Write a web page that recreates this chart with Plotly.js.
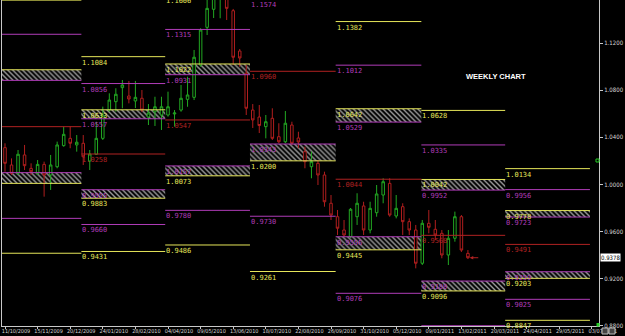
<!DOCTYPE html>
<html><head><meta charset="utf-8">
<script src="https://cdn.plot.ly/plotly-3.0.1.min.js"></script>
<style>html,body{margin:0;padding:0;background:#000;}#chart{width:625px;height:336px;}</style>
</head><body><div id="chart"></div>
<script>
// ---- weekly candles (first bar week) ----
const firstWeek = '2009-10-11';
const openP = [1.0312,1.0165,1.0094,1.0250,1.0136,1.0094,1.0170,1.0080,1.0150,1.0329,
  1.0391,1.0335,1.0349,1.0199,1.0256,1.0391,1.0631,1.0702,1.0821,1.0750,
  1.0708,1.0731,1.0572,1.0617,1.0589,1.0589,1.0598,1.0631,1.0722,1.0739,
  1.1013,1.1333,1.1486,1.1590,1.1650,1.1474,1.1132,1.0943,1.0631,1.0572,
  1.0490,1.0561,1.0405,1.0362,1.0504,1.0394,1.0278,1.0150,1.0179,1.0080,
  0.9840,0.9726,0.9613,0.9556,0.9726,0.9817,0.9613,0.9760,0.9910,1.0009,
  0.9732,0.9811,0.9684,0.9613,0.9331,0.9670,0.9619,0.9585,0.9401,0.9543,
  0.9726,0.9415];
const highP = [1.0349,1.0221,1.0292,1.0335,1.0179,1.0207,1.0193,1.0250,1.0363,1.0490,
  1.0490,1.0419,1.0419,1.0292,1.0532,1.0660,1.0773,1.0816,1.0886,1.0878,
  1.0878,1.0801,1.0682,1.0744,1.0744,1.0787,1.0631,1.0844,1.0914,1.1141,
  1.1325,1.1570,1.1680,1.1750,1.1720,1.1489,1.1149,1.1013,1.0682,1.0674,
  1.0589,1.0646,1.0519,1.0623,1.0532,1.0447,1.0320,1.0278,1.0207,1.0108,
  0.9910,0.9783,0.9698,0.9800,0.9925,0.9853,0.9853,0.9995,1.0052,1.0052,
  0.9910,0.9840,0.9712,0.9656,0.9698,0.9783,0.9698,0.9613,0.9613,0.9769,
  0.9740,0.9443];
const lowP = [1.0108,1.0080,1.0080,1.0122,1.0080,1.0080,0.9896,0.9953,1.0137,1.0320,
  1.0307,1.0278,1.0165,1.0122,1.0250,1.0377,1.0617,1.0617,1.0646,1.0688,
  1.0648,1.0614,1.0504,1.0496,1.0462,1.0575,1.0490,1.0617,1.0659,1.0716,
  1.0999,1.1268,1.1412,1.1410,1.1395,1.1013,1.0999,1.0589,1.0479,1.0436,
  1.0391,1.0377,1.0349,1.0351,1.0335,1.0307,1.0137,1.0052,0.9995,0.9811,
  0.9698,0.9571,0.9556,0.9545,0.9656,0.9571,0.9585,0.9726,0.9840,0.9726,
  0.9712,0.9571,0.9571,0.9288,0.9316,0.9585,0.9528,0.9373,0.9316,0.9514,
  0.9427,0.9367];
const closeP = [1.0179,1.0094,1.0256,1.0159,1.0108,1.0170,1.0080,1.0165,1.0335,1.0425,
  1.0349,1.0358,1.0235,1.0258,1.0391,1.0589,1.0716,1.0765,1.0844,1.0725,
  1.0739,1.0631,1.0606,1.0659,1.0659,1.0659,1.0606,1.0731,1.0759,1.1079,
  1.1310,1.1494,1.1620,1.1690,1.1494,1.1079,1.1073,1.0646,1.0547,1.0500,
  1.0532,1.0391,1.0362,1.0519,1.0349,1.0360,1.0193,1.0193,1.0080,0.9853,
  0.9740,0.9628,0.9571,0.9789,0.9840,0.9613,0.9797,0.9919,1.0023,0.9740,
  0.9797,0.9684,0.9613,0.9331,0.9670,0.9636,0.9571,0.9401,0.9543,0.9726,
  0.9443,0.9378];

// ---- quarterly levels ----
const quarterStarts = ['2009-10-01','2010-01-01','2010-04-01','2010-07-01','2010-10-01','2011-01-01','2011-04-01','2011-07-01'];
const Y1  = [1.1564,1.1084,1.1606,1.2660,1.1382,1.0628,1.0134];
const M1  = [1.1274,1.0856,1.1315,1.2190,1.1012,1.0335,0.9956];
const Z1a = [1.0973,1.0633,1.1022,1.1720,1.0642,1.0042,0.9778];
const Z1b = [1.0883,1.0557,1.0931,1.1574,1.0529,0.9952,0.9723];
const PV  = [1.0490,1.0258,1.0547,1.0960,1.0044,0.9568,0.9491];
const Z2a = [1.0100,0.9955,1.0157,1.0343,0.9556,0.9180,0.9259];
const Z2b = [1.0009,0.9883,1.0073,1.0200,0.9445,0.9096,0.9203];
const M2  = [0.9712,0.9660,0.9780,0.9730,0.9076,0.8801,0.9025];
const Y2  = [0.9416,0.9431,0.9486,0.9261,0.8706,0.8508,0.8847];
const currentPrice = 0.9378;
const chartTitle = 'WEEKLY CHART';

// ---- view ----
const xRange = ['2009-10-07 18:40', '2011-07-10 17:30'];
const yRange = [0.87986, 1.15649];

const DAY = 86400000;
const YEL = '#e6e65a', MAG = '#b03cb8', RED = '#b02222';
const weekStart = Date.parse(firstWeek + 'T00:00:00Z');
function fmt(ms){const d=new Date(ms);const p=n=>String(n).padStart(2,'0');
  return d.getUTCFullYear()+'-'+p(d.getUTCMonth()+1)+'-'+p(d.getUTCDate())+' '+p(d.getUTCHours())+':'+p(d.getUTCMinutes());}
const weeks = openP.map((_, i) => fmt(weekStart + i*7*DAY));
const qMs = quarterStarts.map(s => Date.parse(s + 'T00:00:00Z'));

// hatched zones
const zx=[], zy=[], zb=[], zw=[];
for (let q=0;q<qMs.length-1;q++){
  const c = fmt((qMs[q]+qMs[q+1])/2), w = qMs[q+1]-qMs[q];
  zx.push(c); zb.push(Z1b[q]); zy.push(Z1a[q]-Z1b[q]); zw.push(w);
  zx.push(c); zb.push(Z2b[q]); zy.push(Z2a[q]-Z2b[q]); zw.push(w);
}
const zones = {type:'bar', x:zx, y:zy, base:zb, width:zw, hoverinfo:'skip',
  marker:{color:'#000', line:{width:0}, pattern:{shape:'\\', fgcolor:'#a0a0a0', bgcolor:'#000', size:3.5, solidity:0.4}}};

const levelSets = [[Y1,YEL],[M1,MAG],[Z1a,YEL],[Z1b,MAG],[PV,RED],[Z2a,MAG],[Z2b,YEL],[M2,MAG],[Y2,YEL]];
function lineTrace(color){
  const x=[], y=[];
  levelSets.filter(s=>s[1]===color).forEach(([arr])=>{
    for (let q=0;q<qMs.length-1;q++){ x.push(fmt(qMs[q]),fmt(qMs[q+1]),null); y.push(arr[q],arr[q],null); }
  });
  return {type:'scatter', mode:'lines', x, y, line:{color, width:1}, hoverinfo:'skip', connectgaps:false};
}

const candles = {type:'candlestick', x:weeks, open:openP, high:highP, low:lowP, close:closeP,
  increasing:{line:{color:'#22a822', width:1}, fillcolor:'#000'},
  decreasing:{line:{color:'#b01e1e', width:1}, fillcolor:'#000'},
  whiskerwidth:0, hoverinfo:'skip'};

const yToPaper = v => (v - yRange[0])/(yRange[1]-yRange[0]);
const xStartMs = Date.parse(xRange[0].replace(' ','T')+':00Z');
const annotations = [];
for (let q=0;q<qMs.length-1;q++){
  if (qMs[q] < xStartMs) continue;
  levelSets.forEach(([arr,color])=>{
    const v = arr[q];
    if (v < yRange[0]+0.003 || v > yRange[1]+0.006) return;
    annotations.push({xref:'x', yref:'paper', x:fmt(qMs[q]), y:yToPaper(v), xanchor:'left', yanchor:'top',
      text:v.toFixed(4), showarrow:false, borderpad:0, yshift:-1,
      font:{family:'DejaVu Sans Mono, monospace', size:7, color}});
  });
}
annotations.push({xref:'paper', yref:'paper', x:(464-2)/597, y:1-77/326, xanchor:'left', yanchor:'middle',
  text:'<b>'+chartTitle+'</b>', showarrow:false, font:{family:'Liberation Sans, Arial, sans-serif', size:7.5, color:'#ffffff'}});
annotations.push({xref:'paper', yref:'paper', x:1, y:yToPaper(currentPrice), xanchor:'left', yanchor:'middle', xshift:1,
  text:currentPrice.toFixed(4), showarrow:false, bgcolor:'#ffffff', borderpad:0,
  font:{family:'Liberation Sans Narrow, DejaVu Sans Condensed, sans-serif', size:6, color:'#000'}});
annotations.push({xref:'x', yref:'y', x:fmt(weekStart + (openP.length-1)*7*DAY + 2*DAY), y:currentPrice,
  ax:10, ay:0, text:'', showarrow:true, arrowhead:2, arrowsize:0.7, arrowwidth:1, arrowcolor:RED});

const px = v => (v-2)/597, py = v => 1 - v/326;
const shapes = [
  {type:'rect', xref:'paper', yref:'paper', x0:px(596.5), x1:px(599.5), y0:py(326.5), y1:py(323), fillcolor:'#22cc22', line:{width:0}},
  {type:'rect', xref:'paper', yref:'paper', x0:px(596), x1:px(599), y0:py(162), y1:py(159), fillcolor:'rgba(0,0,0,0)', line:{width:1, color:'#22cc22'}},
  {type:'rect', xref:'paper', yref:'paper', x0:px(602), x1:px(608), y0:py(334), y1:py(328), fillcolor:'#444', line:{width:1, color:'#bbb'}},
  {type:'rect', xref:'paper', yref:'paper', x0:px(609), x1:px(615), y0:py(334), y1:py(328), fillcolor:'#444', line:{width:1, color:'#bbb'}}
];

const tickFont = {family:'Liberation Sans Narrow, DejaVu Sans Condensed, sans-serif', size:6, color:'#d8d8d8'};
const layout = {
  width:625, height:336, margin:{l:2, r:26, t:0, b:10, pad:0},
  paper_bgcolor:'#000', plot_bgcolor:'#000', showlegend:false,
  barmode:'overlay', boxgap:0.45,
  xaxis:{type:'date', range:xRange, rangeslider:{visible:false}, showgrid:false, zeroline:false,
    showline:true, linecolor:'#c8c8c8', linewidth:1, ticks:'outside', ticklen:2, tickcolor:'#c8c8c8',
    tick0:firstWeek, dtick:35*DAY, tickformat:'%d/%m/%Y', tickangle:0, ticklabelposition:'outside',
    ticklabelshift:11, ticklabelstandoff:-3,
    tickfont:{family:tickFont.family, size:5.5, color:'#d8d8d8'}, fixedrange:true},
  yaxis:{side:'right', range:yRange, showgrid:false, zeroline:false, showline:true, mirror:true,
    linecolor:'#c8c8c8', linewidth:1, ticks:'outside', ticklen:3, tickcolor:'#c8c8c8',
    tick0:0, dtick:0.04, tickformat:'.4f', tickfont:tickFont, fixedrange:true},
  annotations, shapes
};
Plotly.newPlot('chart', [zones, lineTrace(YEL), lineTrace(MAG), lineTrace(RED), candles], layout, {staticPlot:true, displayModeBar:false});
</script></body></html>
